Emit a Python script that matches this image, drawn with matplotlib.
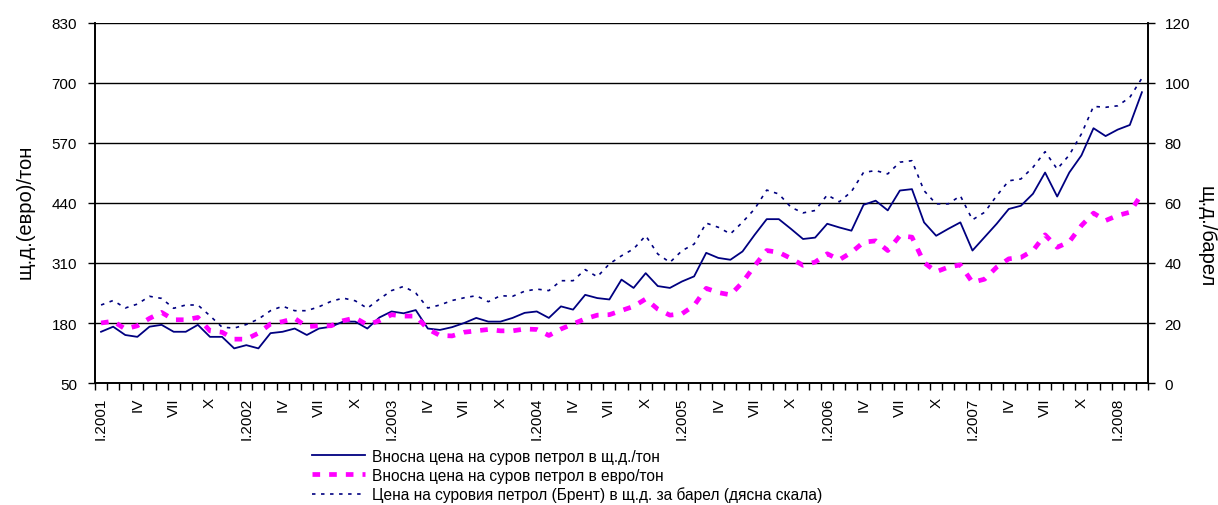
import numpy as np
import matplotlib.pyplot as plt

plt.rcParams['font.family'] = ['Liberation Sans', 'DejaVu Sans']
plt.rcParams['lines.scale_dashes'] = False

# monthly data, I.2001 - III.2008
usd_ton = [161, 172, 154, 150, 172, 176, 161, 161, 176, 150, 150, 125,
           132, 125, 158, 161, 168, 154, 168, 172, 183, 183, 168, 192,
           205, 201, 208, 168, 165, 171, 180, 191, 183, 183, 191, 202,
           205, 191, 216, 209, 241, 234, 231, 274, 256, 288, 260, 256,
           270, 281, 332, 321, 317, 335, 371, 405, 405, 384, 362, 365,
           395, 387, 380, 436, 445, 424, 467, 470, 398, 369, 384, 398,
           337, 366, 395, 427, 434, 460, 506, 454, 506, 543, 602, 585,
           599, 609, 680]
eur_ton = [180, 184, 167, 174, 190, 203, 187, 187, 192, 163, 160, 145,
           145, 158, 178, 183, 190, 172, 174, 174, 185, 191, 176, 185,
           198, 195, 195, 167, 153, 152, 160, 163, 166, 163, 163, 167,
           166, 153, 167, 178, 189, 197, 198, 207, 216, 232, 210, 197,
           200, 218, 255, 246, 241, 268, 304, 337, 333, 320, 305, 312,
           330, 317, 333, 355, 358, 337, 369, 366, 311, 291, 301, 306,
           268, 275, 301, 319, 322, 337, 371, 344, 356, 391, 418, 402,
           413, 420, 460]
brent = [26.0, 27.5, 25.0, 26.3, 28.9, 28.2, 24.9, 26.0, 26.0, 22.4, 18.6, 18.3,
         19.5, 21.3, 24.1, 25.6, 24.1, 24.1, 25.4, 27.2, 28.3, 27.4, 24.9, 28.0,
         30.8, 32.2, 30.0, 25.0, 26.0, 27.5, 28.4, 29.1, 27.1, 29.1, 28.9, 30.6,
         31.3, 30.8, 34.1, 34.1, 37.8, 35.4, 39.7, 42.4, 44.7, 49.1, 43.0, 40.2,
         44.1, 46.3, 53.3, 51.9, 49.7, 53.6, 58.0, 64.3, 63.0, 58.6, 56.7, 57.5,
         62.7, 60.4, 63.8, 70.2, 70.8, 69.7, 73.6, 74.1, 64.1, 59.7, 59.7, 62.4,
         54.4, 56.9, 62.4, 67.4, 68.0, 71.9, 77.1, 71.3, 76.0, 83.0, 92.2, 91.9,
         92.4, 95.2, 101.6]

quarters = ['I', 'IV', 'VII', 'X']
years = list(range(2001, 2009))
names = ['Вносна цена на суров петрол в щ.д./тон',
         'Вносна цена на суров петрол в евро/тон',
         'Цена на суровия петрол (Брент) в щ.д. за барел (дясна скала)']

x = np.arange(len(usd_ton))
tick_pos = []
tick_lab = []
for k in range(0, len(x), 3):
    q = quarters[(k // 3) % 4]
    if q == 'I':
        q = 'I.' + str(years[k // 12])
    tick_pos.append(k)
    tick_lab.append(q)

fig = plt.figure(figsize=(12.18, 5.06), dpi=100)
ax = fig.add_axes([0.078, 0.2411, 0.8645, 0.7115])
ax2 = ax.twinx()

ax.set_ylim(50, 830)
ax.set_yticks(np.arange(50, 831, 130))
ax.set_xlim(-0.5, len(x) - 0.5)
for v in np.arange(180, 831, 130):
    ax.axhline(v, color='black', lw=1, zorder=1)

l1, = ax.plot(x, usd_ton, color='#000080', lw=1.3, zorder=3)
l2, = ax.plot(x, eur_ton, color='#FF00FF', lw=3.4, zorder=3)
l2.set_dashes((5.5, 6.5))

ax2.set_ylim(0, 120)
ax2.set_yticks(np.arange(0, 121, 20))
l3, = ax2.plot(x, brent, color='#000080', lw=1.2)
l3.set_dashes((2.5, 4))

ax.set_xticks(tick_pos)
ax.set_xticklabels(tick_lab, rotation=90, fontsize=11)
ax.set_xticks(np.arange(-0.5, len(x), 1), minor=True)
ax.tick_params(axis='x', which='major', length=0, pad=10)
ax.tick_params(axis='x', which='minor', length=5, direction='out', width=1)
ax.tick_params(axis='y', length=5, direction='out', labelsize=11, width=1, pad=8)
ax2.tick_params(axis='y', length=5, direction='out', labelsize=11, width=1, pad=7)

for a in (ax, ax2):
    a.spines['top'].set_visible(False)
    a.spines['left'].set_linewidth(1.2)
    a.spines['right'].set_linewidth(1.2)
    a.spines['bottom'].set_linewidth(1.2)

ax.set_ylabel('щ.д.(евро)/тон', fontsize=14.5, va='center')
ax.yaxis.set_label_coords(-0.0665, 0.478)
ax2.set_ylabel('щ.д./барел', fontsize=14.5, rotation=270, va='center')
ax2.yaxis.set_label_coords(1.0555, 0.408)

fig.legend([l1, l2, l3], names, loc='upper left', bbox_to_anchor=(0.256, 0.111),
           frameon=False, fontsize=11.2, handlelength=3.4, handletextpad=0.45,
           labelspacing=0.25, borderpad=0, borderaxespad=0)

fig.savefig('out.png', dpi=100)
